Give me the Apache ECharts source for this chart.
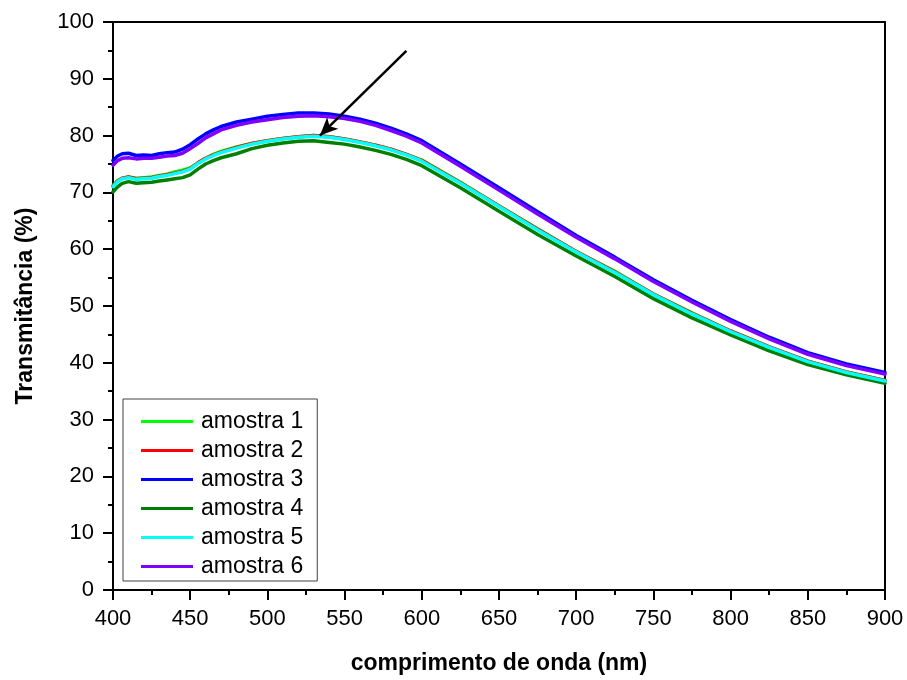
<!DOCTYPE html>
<html>
<head>
<meta charset="utf-8">
<title>Transmitância</title>
<script src="https://cdn.jsdelivr.net/npm/echarts@6/dist/echarts.min.js"></script>
<style>
  html, body { margin: 0; padding: 0; background: #ffffff; }
  #chart { width: 907px; height: 680px; }
</style>
</head>
<body>
<div id="chart"></div>
<script>
// Wavelength samples (nm)
const wavelength = [400,403,406,410,415,420,425,430,435,440,445,450,455,460,465,470,480,490,500,510,520,530,540,550,560,570,580,590,600,625,650,675,700,725,750,775,800,825,850,875,900];

// Transmittance (%) for each sample
const amostra1 = [71.2,72.1,72.5,72.7,72.5,72.6,72.7,73.0,73.2,73.6,73.9,74.3,75.2,76.0,76.7,77.2,78.0,78.6,79.1,79.5,79.8,80.0,79.8,79.4,78.9,78.3,77.6,76.7,75.7,71.8,67.6,63.6,59.6,56.1,52.1,48.8,45.6,42.8,40.3,38.4,36.9];
const amostra2 = [71.1,72.0,72.5,72.7,72.4,72.5,72.6,72.9,73.1,73.4,73.7,74.2,75.2,76.0,76.6,77.1,77.9,78.6,79.1,79.5,79.8,80.0,79.8,79.4,78.9,78.3,77.6,76.7,75.6,71.7,67.6,63.5,59.6,56.0,52.1,48.7,45.6,42.8,40.3,38.4,36.9];
const amostra3 = [75.6,76.4,76.8,76.9,76.5,76.6,76.5,76.8,77.0,77.1,77.6,78.4,79.4,80.3,81.0,81.6,82.4,82.9,83.4,83.7,84.0,84.0,83.8,83.4,82.9,82.2,81.3,80.3,79.1,75.0,70.8,66.6,62.4,58.6,54.6,51.0,47.6,44.5,41.8,39.8,38.3];
const amostra4 = [70.1,71.0,71.6,71.9,71.6,71.7,71.8,72.0,72.2,72.4,72.6,73.1,74.1,75.0,75.6,76.1,76.8,77.7,78.3,78.7,79.0,79.1,78.8,78.5,78.0,77.4,76.7,75.8,74.7,70.8,66.7,62.6,58.8,55.2,51.3,47.9,44.9,42.1,39.7,37.9,36.4];
const amostra5 = [71.0,71.9,72.4,72.6,72.3,72.4,72.5,72.8,73.0,73.3,73.6,74.1,75.1,75.9,76.5,77.0,77.8,78.5,79.0,79.4,79.7,79.9,79.7,79.3,78.8,78.2,77.5,76.6,75.5,71.6,67.5,63.4,59.5,55.9,52.0,48.6,45.5,42.7,40.2,38.3,36.8];
const amostra6 = [74.8,75.6,76.0,76.1,75.9,76.0,76.0,76.2,76.4,76.5,76.9,77.7,78.6,79.6,80.3,81.0,81.8,82.4,82.8,83.2,83.4,83.5,83.3,83.0,82.5,81.8,80.9,79.9,78.7,74.6,70.4,66.2,62.1,58.3,54.3,50.7,47.3,44.2,41.5,39.5,38.0];

const seriesNames = ['amostra 1','amostra 2','amostra 3','amostra 4','amostra 5','amostra 6'];
const seriesValues = [amostra1, amostra2, amostra3, amostra4, amostra5, amostra6];
const seriesColors = ['#00ff00','#ff0000','#0000ff','#008000','#00ffff','#8000ff'];

// Arrow pointing at the peak region: [start, tip] in (nm, %)
const arrowStart = [590, 94.9];
const arrowTip = [534, 80.0];

const FONT = "'Liberation Sans', Arial, sans-serif";

const chart = echarts.init(document.getElementById('chart'), null, { renderer: 'canvas', width: 907, height: 680 });

const series = seriesNames.map((name, i) => {
  const s = {
    name: name,
    type: 'line',
    data: wavelength.map((w, j) => [w, seriesValues[i][j]]),
    showSymbol: false,
    symbol: 'none',
    smooth: false,
    lineStyle: { color: seriesColors[i], width: 3.5, join: 'round', cap: 'round' },
    itemStyle: { color: seriesColors[i] },
    emphasis: { disabled: true },
    z: 2
  };
  if (name === 'amostra 6') {
    s.markLine = {
      silent: true,
      symbol: ['none', 'arrow'],
      symbolSize: [12, 18],
      label: { show: false },
      lineStyle: { color: '#000000', width: 2.5, type: 'solid' },
      emphasis: { disabled: true },
      data: [[
        { coord: arrowStart },
        { coord: arrowTip }
      ]]
    };
  }
  return s;
});

const axisLabelStyle = { color: '#000000', fontSize: 22, fontFamily: FONT };

chart.setOption({
  animation: false,
  backgroundColor: '#ffffff',
  grid: { left: 113, top: 22, width: 772, height: 570, containLabel: false },
  legend: {
    orient: 'vertical',
    left: 123,
    top: 399,
    padding: [11, 14, 3, 18],
    itemGap: 6,
    itemWidth: 52,
    itemHeight: 3,
    icon: 'rect',
    borderColor: '#404040',
    borderWidth: 1,
    backgroundColor: '#ffffff',
    textStyle: { color: '#000000', fontSize: 23, fontFamily: FONT, lineHeight: 20, padding: [0, 0, 0, 3] },
    data: seriesNames
  },
  xAxis: [
    {
      type: 'value',
      min: 400,
      max: 900,
      interval: 50,
      position: 'bottom',
      name: 'comprimento de onda (nm)',
      nameLocation: 'middle',
      nameGap: 62,
      nameTextStyle: { color: '#000000', fontSize: 23, fontWeight: 'bold', fontFamily: FONT },
      axisLine: { show: true, onZero: false, lineStyle: { color: '#000000', width: 2 } },
      axisTick: { show: true, inside: false, length: 10, lineStyle: { color: '#000000', width: 2 } },
      minorTick: { show: true, splitNumber: 2, length: 5, lineStyle: { color: '#000000', width: 2 } },
      axisLabel: Object.assign({ margin: 18 }, axisLabelStyle),
      splitLine: { show: false }
    },
    {
      type: 'value',
      min: 400,
      max: 900,
      interval: 50,
      position: 'top',
      axisLine: { show: true, onZero: false, lineStyle: { color: '#000000', width: 2 } },
      axisTick: { show: false },
      axisLabel: { show: false },
      splitLine: { show: false }
    }
  ],
  yAxis: [
    {
      type: 'value',
      min: 0,
      max: 100,
      interval: 10,
      position: 'left',
      name: 'Transmitância (%)',
      nameLocation: 'middle',
      nameGap: 76,
      nameRotate: 90,
      nameTextStyle: { color: '#000000', fontSize: 23, fontWeight: 'bold', fontFamily: FONT },
      axisLine: { show: true, onZero: false, lineStyle: { color: '#000000', width: 2 } },
      axisTick: { show: true, inside: false, length: 10, lineStyle: { color: '#000000', width: 2 } },
      minorTick: { show: true, splitNumber: 2, length: 5, lineStyle: { color: '#000000', width: 2 } },
      axisLabel: Object.assign({ margin: 19 }, axisLabelStyle),
      splitLine: { show: false }
    },
    {
      type: 'value',
      min: 0,
      max: 100,
      interval: 10,
      position: 'right',
      axisLine: { show: true, onZero: false, lineStyle: { color: '#000000', width: 2 } },
      axisTick: { show: false },
      axisLabel: { show: false },
      splitLine: { show: false }
    }
  ],
  series: series
});
</script>
</body>
</html>
